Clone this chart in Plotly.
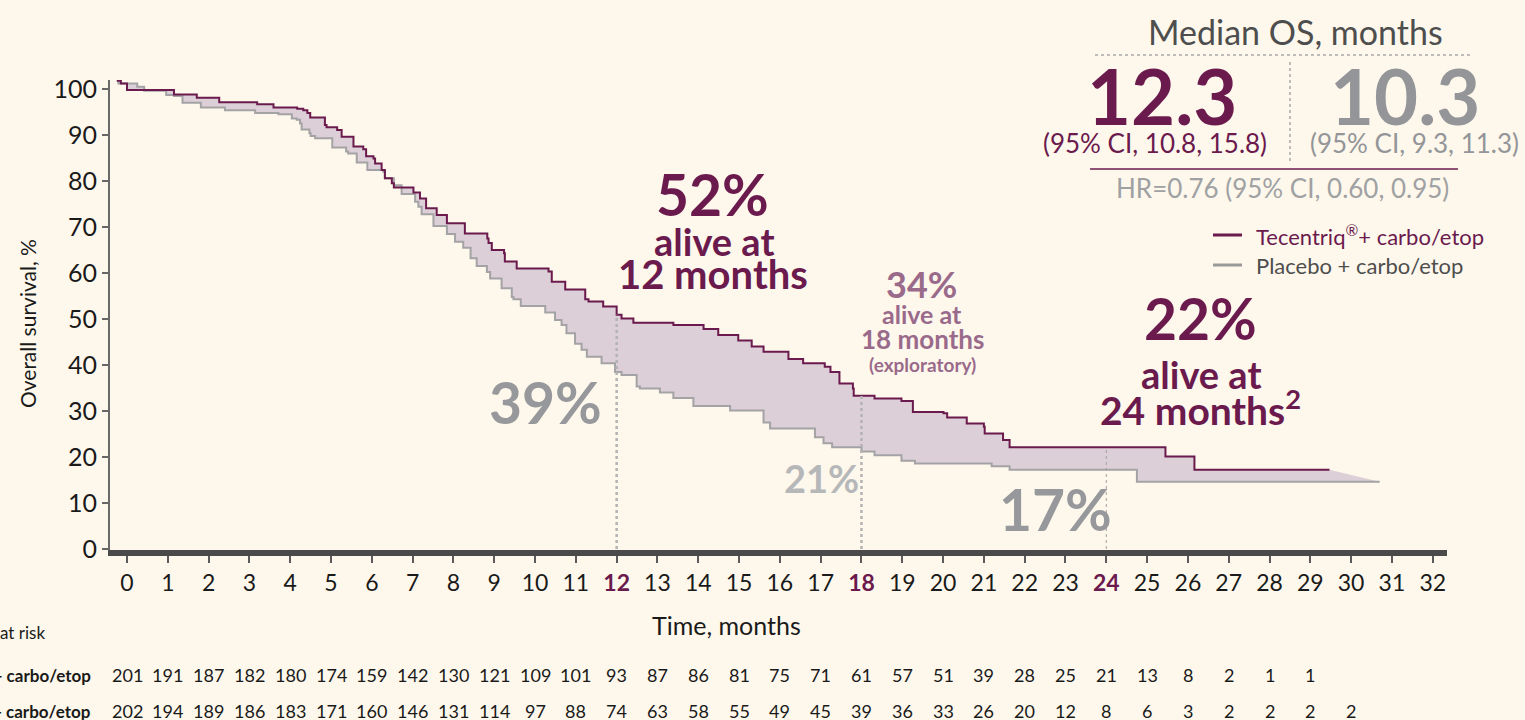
import plotly.graph_objects as go

# ---------------- data ----------------
months = list(range(0, 33))
x_tick_labels = [str(m) for m in months]
highlight_months = [12, 18, 24]
y_ticks = list(range(0, 101, 10))
y_tick_labels = [str(v) for v in y_ticks]

atezo_t = [-0.25, -0.15, 0.0, 1.15, 1.71, 2.26, 3.19, 3.59, 4.17, 4.32, 4.42, 4.49, 4.85, 4.89,
           5.15, 5.26, 5.55, 5.79, 5.86, 6.04, 6.08, 6.24, 6.32, 6.49, 6.54, 7.02, 7.18, 7.33,
           7.59, 7.84, 8.28, 8.83, 8.86, 8.94, 9.24, 9.26, 9.55, 10.33, 10.41, 10.74, 11.23,
           11.31, 11.67, 12.0, 12.12, 12.41, 13.39, 14.13, 14.49, 14.98, 15.31, 15.6, 16.21,
           16.57, 17.1, 17.24, 17.46, 17.79, 17.81, 18.32, 18.98, 19.26, 20.01, 20.1, 20.58,
           21.0, 21.02, 21.47, 21.63, 25.45, 26.16, 29.47]
atezo_s = [101.8, 101.2, 99.8, 98.8, 98.1, 97.1, 96.7, 96.0, 95.7, 95.4, 94.8, 93.8, 92.2, 91.7,
           91.1, 89.6, 87.5, 86.9, 85.4, 84.9, 83.8, 82.4, 80.6, 79.5, 78.6, 77.5, 76.2, 74.1,
           72.6, 70.8, 68.6, 67.5, 66.5, 65.0, 64.3, 62.5, 61.0, 60.3, 58.1, 56.4, 54.3,
           53.8, 52.7, 50.9, 50.1, 49.2, 48.7, 47.8, 46.5, 45.3, 44.0, 42.9, 41.3,
           40.4, 39.6, 38.5, 36.0, 34.9, 33.3, 32.7, 32.2, 29.8, 29.5, 28.6, 27.3,
           26.6, 25.1, 23.7, 22.1, 20.1, 17.2, 17.2]

placebo_t = [-0.25, -0.21, 0.25, 0.42, 0.96, 1.15, 1.36, 1.81, 2.4, 3.14, 3.71, 4.04, 4.16, 4.24,
             4.28, 4.47, 4.5, 4.61, 5.03, 5.37, 5.42, 5.63, 5.89, 6.28, 6.32, 6.54, 6.73, 7.06,
             7.14, 7.22, 7.51, 7.84, 8.04, 8.24, 8.42, 8.57, 8.82, 8.9, 9.18, 9.43, 9.47, 9.65,
             10.25, 10.49, 10.65, 10.77, 10.98, 11.14, 11.27, 11.63, 11.96, 12.12, 12.49, 12.57,
             13.06, 13.39, 13.88, 14.78, 15.6, 15.76, 16.86, 17.07, 17.28, 18.0, 18.32, 18.98,
             19.31, 21.19, 21.63, 24.75, 30.7]
placebo_s = [101.8, 101.2, 100.5, 99.6, 98.7, 98.5, 97.0, 96.0, 95.4, 94.8, 94.5, 93.6, 93.3, 92.5,
             91.2, 90.4, 89.8, 89.3, 87.3, 86.4, 86.0, 84.0, 82.4, 82.0, 80.6, 79.1, 77.2, 75.5,
             74.4, 72.8, 70.2, 68.5, 66.8, 65.5, 63.2, 61.5, 60.2, 58.8, 56.7, 54.8, 54.3, 52.8,
             51.4, 49.8, 48.7, 46.9, 44.6, 43.3, 41.8, 40.4, 38.5, 37.8, 35.3, 34.9,
             34.0, 32.8, 31.1, 30.1, 27.5, 26.2, 24.3, 23.0, 22.1, 21.2, 20.4, 19.2,
             18.6, 18.0, 17.2, 14.6, 14.6]

risk_atezo = [201, 191, 187, 182, 180, 174, 159, 142, 130, 121, 109, 101, 93, 87, 86, 81, 75, 71,
              61, 57, 51, 39, 28, 25, 21, 13, 8, 2, 1, 1]
risk_placebo = [202, 194, 189, 186, 183, 171, 160, 146, 131, 114, 97, 88, 74, 63, 58, 55, 49, 45,
                39, 36, 33, 26, 20, 12, 8, 6, 3, 2, 2, 2, 2]

arm_names = ["Tecentriq + carbo/etop", "Placebo + carbo/etop"]

# ---------------- style ----------------
BG = "#fef8ec"
PURPLE = "#6b1a4e"
MAUVE = "#9a6a8b"
GRAY_LINE = "#a3a3a5"
GRAY_TXT = "#97989b"
LIGHT_GRAY_TXT = "#b6b7b9"
DARK = "#1a1a1a"
FILL = "#dccfd7"
FONT = "Lato"

W, H = 1525, 720
L, R, T, B = 110, 78, 80, 170
PW, PH = W - L - R, H - T - B


def px(x, y):
    return (x - L) / PW, (H - B - y) / PH


def step_path(t, s):
    xs, ys = [t[0]], [s[0]]
    for i in range(1, len(t)):
        xs += [t[i], t[i]]
        ys += [s[i - 1], s[i]]
    return xs, ys


def surv_at(t, s, m):
    v = s[0]
    for ti, si in zip(t, s):
        if ti <= m:
            v = si
    return v


fig = go.Figure()

ax, ay = step_path(atezo_t, atezo_s)
gx, gy = step_path(placebo_t, placebo_s)
fig.add_trace(go.Scatter(x=ax + gx[::-1], y=ay + gy[::-1], fill="toself", fillcolor=FILL,
                         mode="lines", line=dict(width=0), hoverinfo="skip", showlegend=False))
fig.add_trace(go.Scatter(x=placebo_t, y=placebo_s, mode="lines", line_shape="hv",
                         line=dict(color=GRAY_LINE, width=2), showlegend=False))
fig.add_trace(go.Scatter(x=atezo_t, y=atezo_s, mode="lines", line_shape="hv",
                         line=dict(color=PURPLE, width=2), showlegend=False))

# landmark vertical lines
for m in highlight_months:
    top = surv_at(atezo_t, atezo_s, m)
    fig.add_shape(type="line", xref="x", yref="y", x0=m, x1=m, y0=0, y1=top,
                  line=dict(color="#b3b3b3" if m != 24 else "#a0a0a0",
                            width=2.5 if m != 24 else 1, dash="dot"), layer="above")

# tick text
ticktext = []
for m, lab in zip(months, x_tick_labels):
    if m in highlight_months:
        ticktext.append(f"<b><span style='color:{PURPLE}'>{lab}</span></b>")
    else:
        ticktext.append(lab)

fig.update_xaxes(range=[-0.417, 32.35], tickvals=months, ticktext=ticktext, ticks="outside",
                 ticklen=7, tickwidth=2, tickcolor="#5a5a5a", showline=True, linewidth=6,
                 linecolor="#4a4a4a", showgrid=False, zeroline=False,
                 tickfont=dict(family=FONT, size=23, color=DARK))
fig.update_yaxes(range=[-0.22, 101.96], tickvals=y_ticks, ticktext=y_tick_labels, ticks="outside",
                 ticklen=6, tickwidth=1.5, tickcolor="#666666", showline=True, linewidth=2,
                 linecolor="#6a6a6a", showgrid=False, zeroline=False,
                 tickfont=dict(family=FONT, size=25, color=DARK))


def ann(text, x, y, size, color, xanchor="center", bold=False, xref="paper"):
    if bold:
        text = f"<b>{text}</b>"
    if xref == "paper":
        xp, yp = px(x, y)
    else:
        xp, yp = x, px(0, y)[1]
    fig.add_annotation(text=text, x=xp, y=yp, xref=xref, yref="paper", showarrow=False,
                       xanchor=xanchor, yanchor="middle",
                       font=dict(family=FONT, size=size, color=color))


# axis titles
fig.add_annotation(text="Overall survival, %", x=px(27, 0)[0], y=px(0, 324)[1], xref="paper",
                   yref="paper", showarrow=False, textangle=-90, xanchor="center",
                   yanchor="middle", font=dict(family=FONT, size=21, color=DARK))
ann("Time, months", 726, 625, 25, DARK)

# landmark text
ann("52%", 712, 194, 57, PURPLE, bold=True)
ann("alive at", 714, 241, 38, PURPLE, bold=True)
ann("12 months", 713, 274, 40, PURPLE, bold=True)
ann("34%", 921, 284, 36, MAUVE, bold=True)
ann("alive at", 922, 314, 25, MAUVE, bold=True)
ann("18 months", 923, 339, 26, MAUVE, bold=True)
ann("(exploratory)", 923, 364, 19, MAUVE, bold=True)
ann("22%", 1200, 318, 57, PURPLE, bold=True)
ann("alive at", 1201, 374, 38, PURPLE, bold=True)
ann("24 months<sup>2</sup>", 1200, 407, 39, PURPLE, bold=True)
ann("39%", 545, 402, 57, GRAY_TXT, bold=True)
ann("21%", 821, 478, 38, LIGHT_GRAY_TXT, bold=True)
ann("17%", 1055, 509, 57, GRAY_TXT, bold=True)

# median box
ann("Median OS, months", 1295, 31, 34, "#4e4e4e")
ann("12.3", 1162, 95, 76, PURPLE, bold=True)
ann("10.3", 1405, 95, 76, "#939598", bold=True)
ann("(95% CI, 10.8, 15.8)", 1155, 143, 26, PURPLE)
ann("(95% CI, 9.3, 11.3)", 1414, 143, 26, "#939598")
ann("HR=0.76 (95% CI, 0.60, 0.95)", 1282, 188, 26, "#a0a1a3")

x0, y0 = px(1095, 55)
x1, _ = px(1472, 55)
fig.add_shape(type="line", xref="paper", yref="paper", x0=x0, x1=x1, y0=y0, y1=y0,
              line=dict(color="#a8a8a8", width=1.5, dash="dot"))
xa, ya = px(1290, 62)
_, yb = px(1290, 162)
fig.add_shape(type="line", xref="paper", yref="paper", x0=xa, x1=xa, y0=ya, y1=yb,
              line=dict(color="#a8a8a8", width=1.5, dash="dot"))
x0, y0 = px(1090, 169)
x1, _ = px(1458, 169)
fig.add_shape(type="line", xref="paper", yref="paper", x0=x0, x1=x1, y0=y0, y1=y0,
              line=dict(color=PURPLE, width=1.3))

# legend
for yy, col, txt, tcol in [(235, PURPLE, "Tecentriq<sup>®</sup>+ carbo/etop", PURPLE),
                           (265, "#9a9a9a", "Placebo + carbo/etop", "#4e4e4e")]:
    lx0, ly = px(1213, yy)
    lx1, _ = px(1242, yy)
    fig.add_shape(type="line", xref="paper", yref="paper", x0=lx0, x1=lx1, y0=ly, y1=ly,
                  line=dict(color=col, width=3))
    ann(txt, 1254, yy, 22, tcol, xanchor="left")

# at-risk table
ann("Number at risk", 47, 632, 17, DARK, xanchor="right")
for row_y, name, vals in [(675, arm_names[0], risk_atezo), (711, arm_names[1], risk_placebo)]:
    ann(name, 93, row_y, 17, DARK, xanchor="right", bold=True)
    for m, v in zip(months, vals):
        ann(str(v), m, row_y, 18, DARK, xref="x")

fig.update_layout(width=W, height=H, margin=dict(l=L, r=R, t=T, b=B),
                  paper_bgcolor=BG, plot_bgcolor=BG, showlegend=False,
                  font=dict(family=FONT, color=DARK))

fig.write_html("out.html", config={"displayModeBar": False},
               post_script="document.body.style.margin='0';document.body.style.background='" + BG + "';")
